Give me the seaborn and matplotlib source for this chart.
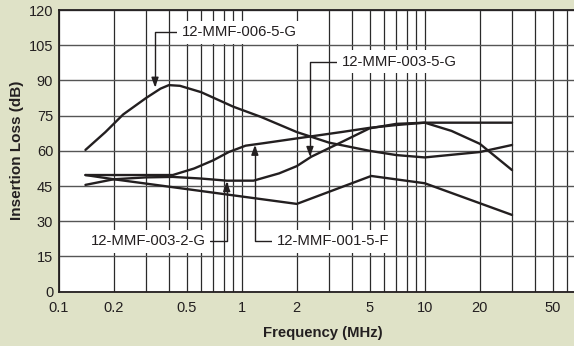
import numpy as np
import pandas as pd
import matplotlib
matplotlib.use('Agg')
import matplotlib.pyplot as plt
import seaborn as sns
from matplotlib.ticker import FixedLocator, NullFormatter

"""insertion loss vs frequency for four filter parts, log frequency axis"""

# curves (MHz, dB)
freq_006_5g = [0.14, 0.18, 0.225, 0.30, 0.36, 0.40, 0.46, 0.6, 0.9, 1.27, 2.0, 3.0, 5.0, 7.0, 10, 20, 30]
loss_006_5g = [60.4, 68.0, 75.5, 82.5, 86.5, 88.0, 87.7, 85.0, 78.8, 74.5, 68.0, 63.5, 60.0, 58.2, 57.2, 59.5, 62.5]

freq_001_5f = [0.14, 0.42, 0.55, 0.70, 0.85, 1.05, 1.3, 2.0, 3.5, 5.0, 7.0, 10, 30]
loss_001_5f = [49.7, 49.7, 52.5, 56.0, 59.5, 62.2, 63.2, 65.3, 68.0, 69.8, 71.0, 72.0, 72.0]

freq_003_2g = [0.14, 0.2, 0.3, 0.42, 0.6, 0.83, 1.16, 1.6, 2.0, 2.4, 3.4, 5.0, 7.0, 10, 14, 20, 30]
loss_003_2g = [45.5, 47.9, 48.7, 48.9, 48.2, 47.3, 47.3, 50.4, 53.5, 57.5, 63.2, 69.6, 71.5, 72.0, 68.5, 63.0, 51.8]

freq_other = [0.14, 0.2, 2.0, 5.1, 10, 30]
loss_other = [49.7, 47.9, 37.4, 49.3, 46.2, 32.7]

# callout labels: text anchor (MHz, dB) and arrow tip (MHz, dB)
callout_text = ['12-MMF-006-5-G', '12-MMF-003-5-G', '12-MMF-003-2-G', '12-MMF-001-5-F']
callout_xytext = [(0.47, 110.6), (3.52, 98.0), (0.635, 21.4), (1.55, 21.4)]
callout_tip = [(0.336, 87.0), (2.36, 57.5), (0.828, 47.0), (1.18, 62.5)]
callout_side = ['left', 'left', 'right', 'left']

x_ticks = [0.1, 0.2, 0.5, 1, 2, 5, 10, 20, 50]
x_tick_labels = ['0.1', '0.2', '0.5', '1', '2', '5', '10', '20', '50']
y_ticks = list(range(0, 121, 15))

bg = '#dfe2c7'
ink = '#231f20'


def build_frame():
    parts = []
    for name, f, l in [('006-5-G', freq_006_5g, loss_006_5g),
                       ('001-5-F', freq_001_5f, loss_001_5f),
                       ('003-2-G', freq_003_2g, loss_003_2g),
                       ('other', freq_other, loss_other)]:
        parts.append(pd.DataFrame({'freq': f, 'loss': l, 'part': name}))
    return pd.concat(parts, ignore_index=True)


def main():
    sns.set_style('white')
    plt.rcParams['font.family'] = ['Liberation Sans', 'DejaVu Sans']

    df = build_frame()

    fig = plt.figure(figsize=(5.74, 3.46), dpi=100, facecolor=bg)
    ax = fig.add_axes([58.7 / 574, 1 - 291.7 / 346, (574 - 58.7) / 574, (291.7 - 10) / 346])
    ax.set_facecolor('white')

    sns.lineplot(data=df, x='freq', y='loss', hue='part', palette=[ink] * 4,
                 sort=False, estimator=None, legend=False, linewidth=1.7, ax=ax, zorder=2)

    ax.set_xscale('log')
    ax.set_xlim(0.1, 65.4)
    ax.set_ylim(0, 120)

    # log grid: every 1..9 of each decade
    minor = [m * 10.0 ** e for e in (-1, 0, 1) for m in range(1, 10)]
    ax.xaxis.set_major_locator(FixedLocator(x_ticks))
    ax.xaxis.set_minor_locator(FixedLocator(minor))
    ax.xaxis.set_minor_formatter(NullFormatter())
    ax.set_xticklabels(x_tick_labels)
    ax.set_yticks(y_ticks)
    ax.grid(True, which='both', axis='x', color='#2a2a2a', linewidth=0.9)
    ax.grid(True, which='major', axis='y', color='#555555', linewidth=1.0)
    ax.set_axisbelow(True)

    ax.tick_params(axis='both', which='both', length=0, labelsize=10.5, labelcolor=ink)
    ax.tick_params(axis='x', pad=7)
    ax.tick_params(axis='y', pad=4)

    for s in ['left', 'bottom', 'top']:
        ax.spines[s].set_color(ink)
        ax.spines[s].set_linewidth(1.3)
    ax.spines['right'].set_visible(False)

    for txt, xyt, tip, side in zip(callout_text, callout_xytext, callout_tip, callout_side):
        ax.annotate(txt, xy=tip, xytext=xyt, ha=side, va='center', fontsize=10.7, color=ink,
                    bbox=dict(boxstyle='square,pad=0.3', fc='white', ec='none'),
                    arrowprops=dict(arrowstyle='-|>,head_length=0.55,head_width=0.2', color=ink, lw=1.0,
                                    relpos=(0, 0.5) if side == 'left' else (1, 0.5),
                                    connectionstyle='angle,angleA=0,angleB=90,rad=0',
                                    shrinkA=0, shrinkB=0),
                    zorder=4)

    ax.set_xlabel('')
    ax.set_ylabel('')
    fig.text(323 / 574, 1 - 333 / 346, 'Frequency (MHz)', ha='center', va='center',
             fontsize=10.7, fontweight='bold', color=ink)
    fig.text(17 / 574, 1 - 150.8 / 346, 'Insertion Loss (dB)', ha='center', va='center',
             rotation=90, fontsize=11, fontweight='bold', color=ink)

    fig.savefig('out.png', dpi=100, facecolor=bg)
    plt.close(fig)


main()
